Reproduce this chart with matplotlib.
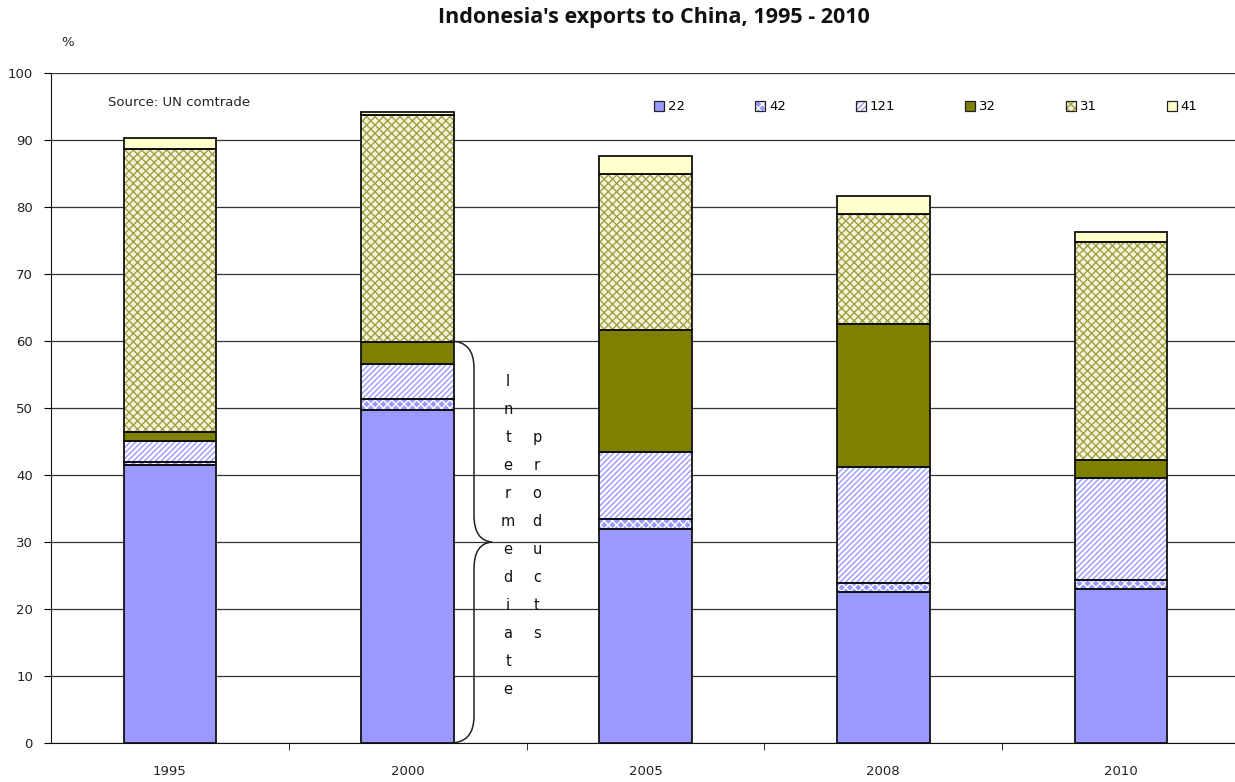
import matplotlib
matplotlib.use("Agg")
import matplotlib.pyplot as plt
from matplotlib.patches import Patch, PathPatch
from matplotlib.path import Path
import numpy as np

years = ["1995", "2000", "2005", "2008", "2010"]
series_names = ["22", "42", "121", "32", "31", "41"]
s22 = [41.5, 49.7, 31.9, 22.5, 23.0]
s42 = [0.4, 1.6, 1.5, 1.4, 1.3]
s121 = [3.2, 5.2, 10.1, 17.3, 15.2]
s32 = [1.3, 3.3, 18.2, 21.4, 2.7]
s31 = [42.3, 34.0, 23.2, 16.3, 32.6]
s41 = [1.6, 0.4, 2.7, 2.7, 1.4]
series = [s22, s42, s121, s32, s31, s41]

# style: (facecolor, hatch colour, hatch)
styles = [
    ("#9999FF", "#9999FF", None),
    ("#9999FF", "#FFFFFF", "xxxx"),
    ("#FFFFFF", "#9999FF", "//////"),
    ("#808000", "#808000", None),
    ("#F4F4DC", "#A0A040", "xxxx"),
    ("#FFFFCC", "#FFFFCC", None),
]

plt.rcParams["font.family"] = ["DejaVu Sans"]
plt.rcParams["hatch.linewidth"] = 1.0

fig = plt.figure(figsize=(12.35, 7.82), dpi=100)
W, H = 1235, 782
left_px, right_px, top_px, bot_px = 51, 1240, 73, 743
ax = fig.add_axes([left_px / W, 1 - bot_px / H, (right_px - left_px) / W, (bot_px - top_px) / H])

x = np.arange(len(years))
width = 0.39
bottom = np.zeros(len(years))
handles = []
for vals, (fc, hc, h) in zip(series, styles):
    vals = np.array(vals)
    ax.bar(x, vals, width, bottom=bottom, color=fc, edgecolor=hc, hatch=h, linewidth=0, zorder=3)
    ax.bar(x, vals, width, bottom=bottom, fill=False, edgecolor="#111111", linewidth=1.3, zorder=4)
    bottom += vals
    handles.append((Patch(facecolor=fc, edgecolor=hc, hatch=h, linewidth=0),
                    Patch(fill=False, edgecolor="#222222", linewidth=0.9)))

ax.set_xlim(-0.5, 4.5)
ax.set_ylim(0, 100)
ax.set_yticks(np.arange(0, 101, 10))
ax.yaxis.grid(True, color="#333333", linewidth=0.9, zorder=0)
ax.set_axisbelow(True)
ax.spines["top"].set_visible(False)
ax.spines["right"].set_visible(False)
ax.spines["left"].set_color("#111111")
ax.spines["bottom"].set_color("#111111")
ax.set_xticks(x)
ax.set_xticklabels(years)
ax.set_xticks(np.arange(0.5, 4.5, 1.0), minor=True)
ax.tick_params(axis="x", which="major", length=0, pad=16, labelsize=9.5, labelcolor="#222222")
ax.tick_params(axis="x", which="minor", length=5, direction="out", color="#111111")
ax.tick_params(axis="y", length=5, direction="out", labelsize=9.5, labelcolor="#222222", pad=8)

fig.text(654 / W, 1 - 18 / H, "Indonesia's exports to China, 1995 - 2010", ha="center", va="center",
         fontsize=15.5, fontweight="bold", family=["Open Sans", "DejaVu Sans"], color="#111111")
fig.text(68 / W, 1 - 42 / H, "%", ha="center", va="center", fontsize=9.5, color="#222222")
fig.text(108 / W, 1 - 102 / H, "Source: UN comtrade", ha="left", va="center", fontsize=9.5, color="#222222")

leg = fig.legend(handles=handles, labels=series_names, ncol=6, loc="center",
                 bbox_to_anchor=(926 / W, 1 - 107 / H), frameon=False, fontsize=9.5,
                 handlelength=0.75, handleheight=0.75, handletextpad=0.3, columnspacing=5.3)

# curly brace (data coords)
def px2x(px):
    return (px - left_px) / (right_px - left_px) * 5 - 0.5

x0, x1, x2 = px2x(450), px2x(474), px2x(492)
verts = [
    (x0, 60), (x1, 60), (x1, 56),
    (x1, 34),
    (x1, 30.2), (x2, 30.0),
    (x1, 29.8), (x1, 26),
    (x1, 4),
    (x1, 0.0), (x0, 0.0),
]
codes = [Path.MOVETO, Path.CURVE3, Path.CURVE3,
         Path.LINETO,
         Path.CURVE3, Path.CURVE3,
         Path.CURVE3, Path.CURVE3,
         Path.LINETO,
         Path.CURVE3, Path.CURVE3]
ax.add_patch(PathPatch(Path(verts, codes), fill=False, edgecolor="#222222", linewidth=1.1, zorder=5))

word1 = "Intermediate"
word2 = "products"
for i, ch in enumerate(word1):
    ax.text(px2x(508), 53.9 - i * 4.18, ch, ha="center", va="center", fontsize=10.5, color="#111111", zorder=6)
for i, ch in enumerate(word2):
    ax.text(px2x(537), 53.9 - (i + 2) * 4.18, ch, ha="center", va="center", fontsize=10.5, color="#111111", zorder=6)

fig.savefig("out.png", dpi=100)
